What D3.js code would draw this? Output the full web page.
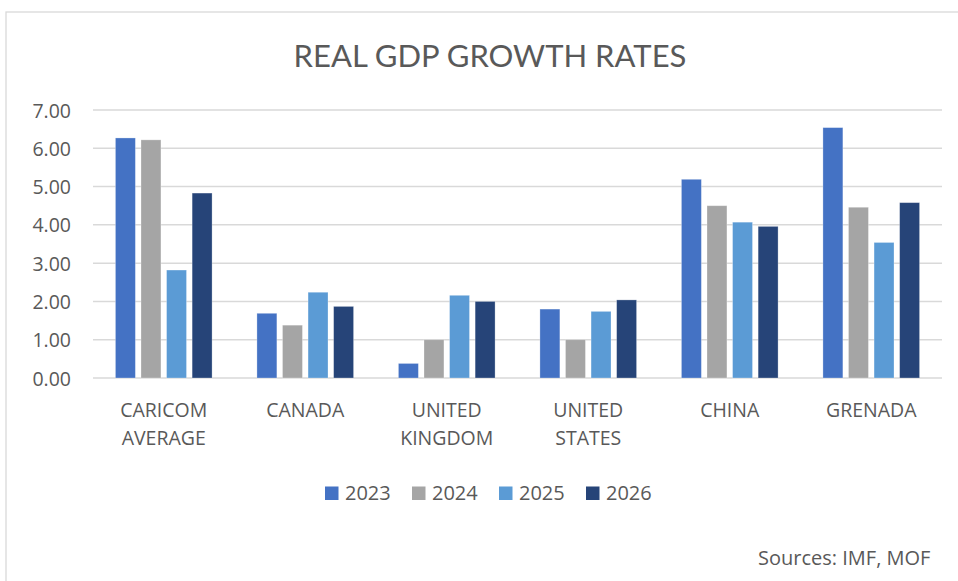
<!DOCTYPE html>
<html><head><meta charset="utf-8">
<script src="https://cdn.jsdelivr.net/npm/d3@7"></script>
<style>body{margin:0;background:#fff;overflow:hidden}svg{display:block}</style>
</head><body>
<script>
const categories = [["CARICOM","AVERAGE"],["CANADA"],["UNITED","KINGDOM"],["UNITED","STATES"],["CHINA"],["GRENADA"]];
const seriesNames = ["2023","2024","2025","2026"];
const v2023 = [6.27, 1.69, 0.38, 1.80, 5.19, 6.54];
const v2024 = [6.22, 1.38, 1.00, 1.00, 4.50, 4.46];
const v2025 = [2.82, 2.24, 2.16, 1.74, 4.07, 3.54];
const v2026 = [4.83, 1.87, 2.00, 2.04, 3.96, 4.58];
const yTicks = [0,1,2,3,4,5,6,7];
const colors = ["#4472C4","#A5A5A5","#5B9BD5","#264478"];
const seriesValues = [v2023, v2024, v2025, v2026];

const W = 958, H = 581;
const svg = d3.select("body").append("svg").attr("width", W).attr("height", H);
const titleFont = "Lato, 'Open Sans', sans-serif";
const font = "'Open Sans', Lato, sans-serif";

svg.append("rect").attr("x",6).attr("y",12).attr("width",W+10).attr("height",H+10)
  .attr("fill","#fff").attr("stroke","#d9d9d9").attr("stroke-width",1.3);

svg.append("text").attr("x",490).attr("y",67).attr("text-anchor","middle")
  .attr("font-family",titleFont).attr("font-size",31).attr("fill","#595959").text("REAL GDP GROWTH RATES");

const y = d3.scaleLinear().domain([0,7]).range([378,110]);
const x0 = d3.scaleBand().domain(d3.range(categories.length)).range([93,942]).paddingInner(0.317).paddingOuter(0.1585);
const x1 = d3.scaleBand().domain(seriesNames).range([0, x0.bandwidth()]).paddingInner(0.22).paddingOuter(0);

const grid = svg.append("g");
yTicks.forEach(t => {
  grid.append("line").attr("x1",93).attr("x2",942).attr("y1",y(t)).attr("y2",y(t))
    .attr("stroke","#d9d9d9").attr("stroke-width",1.5);
});
const yAxis = d3.axisLeft(y).tickValues(yTicks).tickFormat(d3.format(".2f")).tickSize(0).tickPadding(0);
const yg = svg.append("g").attr("transform","translate(71,0)").call(yAxis);
yg.select(".domain").remove();
yg.selectAll("text").attr("font-family",font).attr("font-size",19.5).attr("fill","#595959").attr("dy","0.36em");

seriesNames.forEach((s,si) => {
  svg.append("g").selectAll("rect").data(seriesValues[si]).join("rect")
    .attr("x",(d,i)=>x0(i)+x1(s)).attr("width",x1.bandwidth())
    .attr("y",d=>y(d)).attr("height",d=>y(0)-y(d))
    .attr("fill",colors[si]).attr("stroke","#fff").attr("stroke-opacity",0.35).attr("stroke-width",0.8);
});

const cg = svg.append("g");
categories.forEach((lines,i) => {
  const cx = x0(i) + x0.bandwidth()/2;
  lines.forEach((ln,li) => {
    cg.append("text").attr("x",cx).attr("y",417 + li*28).attr("text-anchor","middle")
      .attr("font-family",font).attr("font-size",19.5).attr("fill","#595959").text(ln);
  });
});

const lg = svg.append("g");
seriesNames.forEach((s,si) => {
  const lx = 325 + si*87;
  lg.append("rect").attr("x",lx).attr("y",486.5).attr("width",13.5).attr("height",13.5).attr("fill",colors[si]);
  lg.append("text").attr("x",lx+20).attr("y",500).attr("font-family",font).attr("font-size",20)
    .attr("fill","#595959").text(s);
});

svg.append("text").attr("x",758).attr("y",565).attr("font-family",font).attr("font-size",20)
  .attr("fill","#595959").text("Sources: IMF, MOF");
</script>
</body></html>
